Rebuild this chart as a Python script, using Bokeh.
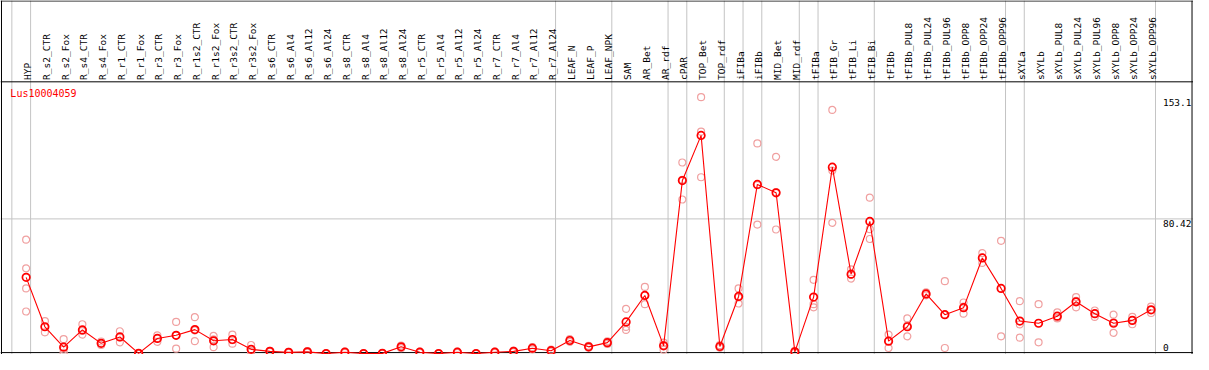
import math
from bokeh.plotting import figure
from bokeh.models import Range1d, Span
from bokeh.core.properties import value
from bokeh.embed import file_html
from bokeh.resources import INLINE

# ---------------- data ----------------
categories = [
    "HYP", "R_s2_CTR", "R_s2_Fox", "R_s4_CTR", "R_s4_Fox", "R_r1_CTR", "R_r1_Fox",
    "R_r3_CTR", "R_r3_Fox", "R_r1s2_CTR", "R_r1s2_Fox", "R_r3s2_CTR", "R_r3s2_Fox",
    "R_s6_CTR", "R_s6_Al4", "R_s6_Al12", "R_s6_Al24", "R_s8_CTR", "R_s8_Al4",
    "R_s8_Al12", "R_s8_Al24", "R_r5_CTR", "R_r5_Al4", "R_r5_Al12", "R_r5_Al24",
    "R_r7_CTR", "R_r7_Al4", "R_r7_Al12", "R_r7_Al24", "LEAF_N", "LEAF_P", "LEAF_NPK",
    "SAM", "AR_Bet", "AR_rdf", "cPAR", "TOP_Bet", "TOP_rdf", "iFIBa", "iFIBb",
    "MID_Bet", "MID_rdf", "tFIBa", "tFIB_Gr", "tFIB_Li", "tFIB_Bi", "tFIBb",
    "tFIBb_PUL8", "tFIBb_PUL24", "tFIBb_PUL96", "tFIBb_OPP8", "tFIBb_OPP24",
    "tFIBb_OPP96", "sXYLa", "sXYLb", "sXYLb_PUL8", "sXYLb_PUL24", "sXYLb_PUL96",
    "sXYLb_OPP8", "sXYLb_OPP24", "sXYLb_OPP96",
]

mean_expr = [
    45.5, 16.0, 3.8, 14.1, 6.1, 9.9, 0.1, 9.0, 10.9, 14.3, 7.6, 8.4, 2.5,
    1.3, 0.7, 1.0, 0.0, 0.8, 0.0, 0.1, 4.0, 0.8, 0.0, 0.8, 0.0,
    0.8, 1.3, 3.2, 1.7, 7.8, 4.0, 6.5,
    18.9, 34.7, 4.6, 103.3, 130.3, 4.2, 34.1, 101.0,
    96.0, 1.0, 33.7, 111.3, 47.4, 78.9, 7.4,
    16.0, 35.6, 23.2, 27.4, 57.1, 38.9,
    19.4, 18.1, 22.3, 30.9, 23.8, 18.1, 19.8, 26.1,
]

rep_a = [
    68.0, 19.4, 8.6, 17.5, 7.2, 13.3, 0.3, 10.9, 18.9, 21.7, 10.5, 11.3, 5.1,
    1.6, 1.0, 1.4, 0.0, 1.2, 0.0, 0.2, 4.8, 1.2, 0.0, 1.2, 0.0,
    1.2, 1.8, 3.9, 2.3, 8.6, 4.6, 7.3,
    26.7, 39.8, 6.5, 114.1, 153.1, 5.0, 38.9, 125.5,
    117.5, 1.6, 44.0, 145.5, 50.3, 93.1, 11.3,
    21.0, 36.5, 43.2, 30.5, 60.0, 67.3,
    31.3, 29.5, 24.6, 33.7, 25.7, 23.2, 21.9, 28.0,
]
rep_b = [
    50.9, 16.0, 2.4, 13.5, 6.0, 9.7, 0.0, 9.1, 10.9, 13.8, 8.5, 8.0, 1.5,
    1.3, 0.7, 1.0, 0.0, 0.8, 0.0, 0.1, 4.0, 0.8, 0.0, 0.8, 0.0,
    0.8, 1.3, 3.2, 1.7, 7.8, 4.0, 6.5,
    15.9, 34.8, 4.9, 103.8, 132.5, 4.2, 33.5, 100.5,
    96.4, 1.0, 29.5, 109.3, 47.1, 74.3, 7.7,
    16.7, 35.5, 23.1, 28.0, 57.3, 39.0,
    17.4, 18.1, 21.3, 31.4, 23.8, 18.7, 20.0, 26.1,
]
rep_c = [
    38.9, 12.7, 0.4, 11.3, 5.1, 6.7, 0.0, 7.0, 2.9, 7.4, 3.8, 5.9, 0.9,
    1.0, 0.4, 0.6, 0.0, 0.4, 0.0, 0.0, 3.2, 0.4, 0.0, 0.4, 0.0,
    0.4, 0.8, 2.5, 1.1, 7.0, 3.4, 5.7,
    14.1, 29.5, 2.3, 92.0, 105.3, 3.4, 29.9, 77.0,
    74.1, 0.4, 27.6, 78.1, 44.8, 68.4, 3.3,
    10.3, 34.8, 3.3, 23.8, 54.1, 10.3,
    9.5, 6.7, 21.0, 27.6, 21.9, 12.4, 17.5, 24.2,
]
extra_rep_cat = ["HYP"]
extra_rep_val = [25.1]

gene_id = "Lus10004059"
max_value = 153.1
ref_value = 80.42
value_labels = ["153.1", "80.42", "0"]
# categories that start a new group (a grey separator is drawn before them)
group_starts = ["HYP", "R_s2_CTR", "LEAF_N", "SAM", "cPAR", "TOP_Bet", "iFIBa",
                "iFIBb", "MID_Bet", "tFIBa", "tFIB_Gr", "tFIBb", "sXYLa", "sXYLb"]

# ---------------- geometry ----------------
W, H = 1193, 354            # figure size (fits in window with 8px page margin)
REF_W, REF_H = 1209, 370    # design grid in "reference pixels"
STEP = 19.0                 # px per category
X0 = 26.0                   # px of first category centre
ZERO = 369.0                # px of value 0
PPU = 1.75                  # px per expression unit


def xpx(px):
    return (px - X0) / STEP


def ypx(py):
    return (ZERO - py) / PPU


idx = list(range(len(categories)))
pos = {c: i for i, c in enumerate(categories)}

p = figure(width=W, height=H,
           x_range=Range1d(xpx(0), xpx(REF_W)),
           y_range=Range1d(ypx(REF_H), ypx(0)),
           toolbar_location=None, output_backend="svg",
           x_axis_location=None, y_axis_location=None,
           min_border=0, min_border_left=0, min_border_right=0,
           min_border_top=0, min_border_bottom=0,
           background_fill_color="white", border_fill_color="white")
p.grid.visible = False
p.outline_line_color = None

GREY = "#c4c4c4"
# grey group separators (column boundary sits 14.5 px left of marker)
bounds = [pos[c] for c in group_starts] + [len(categories)]
for k in bounds:
    p.add_layout(Span(location=k - 14.5 / STEP, dimension="height",
                      line_color=GREY, line_width=1, level="underlay"))
# grey reference level
p.add_layout(Span(location=ref_value, dimension="width",
                  line_color=GREY, line_width=1, level="underlay"))

# black frame lines
for loc in (ypx(0.5), ypx(85), ypx(368)):
    p.add_layout(Span(location=loc, dimension="width", line_color="black",
                      line_width=1, level="underlay"))
for loc in (xpx(1), xpx(1207.5)):
    p.add_layout(Span(location=loc, dimension="height", line_color="black",
                      line_width=1, level="underlay"))

# replicates
REP_COL = "#f0a0a0"
for reps in (rep_a, rep_b, rep_c):
    p.scatter(idx, reps, marker="circle", size=7, fill_color=None,
              line_color=REP_COL, line_width=1.2)
p.scatter([pos[c] for c in extra_rep_cat], extra_rep_val, marker="circle", size=7,
          fill_color=None, line_color=REP_COL, line_width=1.2)

# mean line + markers
p.line(idx, mean_expr, line_color="red", line_width=1.1)
p.scatter(idx, mean_expr, marker="circle", size=7.5, fill_color=None,
          line_color="red", line_width=1.7)

MONO = value("DejaVu Sans Mono")
# rotated category labels
p.text(x=[i + 1.5 / STEP for i in idx], y=[ypx(83)] * len(idx), text=categories,
       angle=math.pi / 2, text_align="left", text_baseline="alphabetic",
       text_font=MONO, text_font_size="9.5px", text_color="black")

# gene id
p.text(x=[xpx(10)], y=[ypx(97)], text=[gene_id], text_align="left",
       text_baseline="middle", text_font=MONO, text_font_size="10px",
       text_color="red")

# value labels at right
lab_x = xpx(1178)
lab_y = [ypx(ZERO - max_value * PPU + 1.5), ypx(ZERO - ref_value * PPU + 1.5), ypx(ZERO - 2.5)]
p.text(x=[lab_x, lab_x, lab_x], y=lab_y[:2], text=value_labels[:2],
       text_align="left", text_baseline="top", text_font=MONO,
       text_font_size="9.5px", text_color="black")
p.text(x=[lab_x], y=[lab_y[2]], text=value_labels[2:],
       text_align="left", text_baseline="bottom", text_font=MONO,
       text_font_size="9.5px", text_color="black")

open("out.html", "w").write(file_html(p, INLINE))
